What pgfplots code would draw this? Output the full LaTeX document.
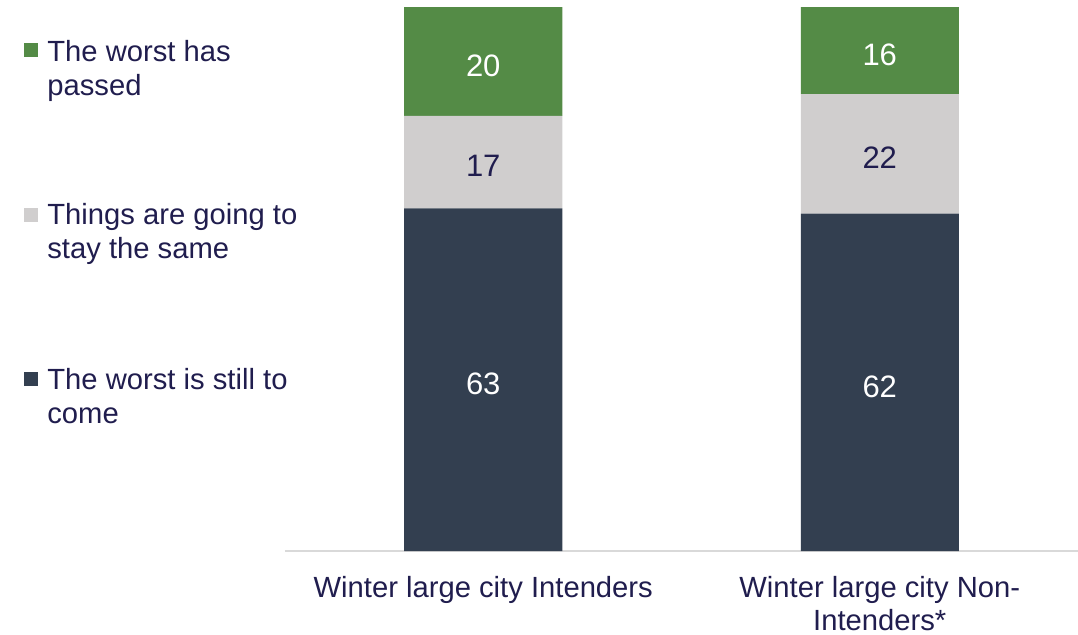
\documentclass[border=0pt]{standalone}
\usepackage{fontspec}
\setmainfont{Liberation Sans}
\usepackage{pgfplots}
\pgfplotsset{compat=1.18}
\definecolor{cgreen}{HTML}{548B46}
\definecolor{cgrey}{HTML}{D0CECE}
\definecolor{cdark}{HTML}{333F50}
\definecolor{ctext}{HTML}{201D4E}
\definecolor{caxis}{HTML}{D9D9D9}
\begin{document}
\begin{tikzpicture}
\useasboundingbox (-142.5pt,-41.5pt) rectangle (396.5pt,275.5pt);
\begin{axis}[
  at={(0,0)}, anchor=south west,
  scale only axis, width=396.5pt, height=272pt,
  ybar stacked, bar width=79pt,
  xmin=-0.5, xmax=1.5, ymin=0, ymax=100,
  axis x line=bottom, axis y line=none,
  x axis line style={draw=caxis, line width=1pt, -},
  xtick={0,1}, xtick style={draw=none},
  xticklabels={Winter large city Intenders, {Winter large city Non-\\Intenders*}},
  xticklabel style={align=center, font=\fontsize{14.6}{16.5}\selectfont, text=ctext, yshift=-7pt},
  ytick=\empty,
  visualization depends on={rawy \as \rawy},
  nodes near coords={\pgfmathprintnumber[assume math mode=true]{\rawy}},
  every node near coord/.append style={anchor=center, yshift=-2pt, font=\fontsize{15.5}{18}\selectfont},
  clip=false,
]
\addplot[fill=cdark, draw=none, every node near coord/.append style={text=white}] coordinates {(0,63) (1,62)};
\addplot[fill=cgrey, draw=none, every node near coord/.append style={text=ctext}] coordinates {(0,17) (1,22)};
\addplot[fill=cgreen, draw=none, every node near coord/.append style={text=white}] coordinates {(0,20) (1,16)};
\end{axis}
% legend
\fill[cgreen] (-130.25pt,247pt) rectangle (-123.25pt,254pt);
\fill[cgrey] (-130.25pt,164.75pt) rectangle (-123.25pt,171.75pt);
\fill[cdark] (-130.25pt,82.75pt) rectangle (-123.25pt,89.75pt);
\begin{scope}[every node/.style={anchor=north west, inner sep=0pt, align=left, text=ctext, font=\fontsize{14.6}{17}\selectfont}]
\node at (-119pt,255.5pt) {The worst has\\passed};
\node at (-119pt,174pt) {Things are going to\\stay the same};
\node at (-119pt,91.5pt) {The worst is still to\\come};
\end{scope}
\end{tikzpicture}
\end{document}
